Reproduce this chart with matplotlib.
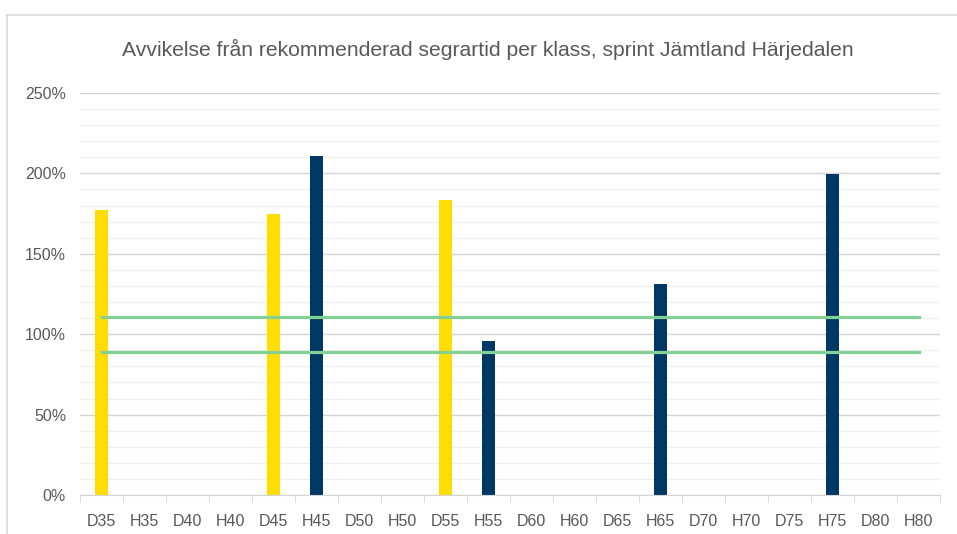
import matplotlib.pyplot as plt
import numpy as np
from matplotlib.lines import Line2D

plt.rcParams['font.family'] = ['Liberation Sans', 'DejaVu Sans']

# data
classes = ['D35', 'H35', 'D40', 'H40', 'D45', 'H45', 'D50', 'H50', 'D55', 'H55',
           'D60', 'H60', 'D65', 'H65', 'D70', 'H70', 'D75', 'H75', 'D80', 'H80']
deviation = [177, 0, 0, 0, 175, 211, 0, 0, 183.5, 96,
             0, 0, 0, 131, 0, 0, 0, 199.5, 0, 0]
upper_limit = 111
lower_limit = 89

colors = ['#FFDD00' if c.startswith('D') else '#003865' for c in classes]

fig = plt.figure(figsize=(9.57, 5.34), dpi=100)
ax = fig.add_axes([80 / 957, 39 / 534, 860 / 957, 402 / 534])

x = np.arange(len(classes))
ax.bar(x, deviation, width=0.29, color=colors, zorder=3)
ax.plot(x, [upper_limit] * len(x), color='#82D095', lw=2.3, zorder=4)
ax.plot(x, [lower_limit] * len(x), color='#82D095', lw=2.3, zorder=4)

ax.set_xlim(-0.5, len(classes) - 0.5)
ax.set_ylim(0, 250)
ax.set_yticks(np.arange(0, 251, 50))
ax.set_yticklabels([f'{v}%' for v in range(0, 251, 50)])
ax.set_yticks(np.arange(0, 251, 10), minor=True)
ax.grid(axis='y', which='major', color='#D4D4D4', lw=1, zorder=0)
ax.grid(axis='y', which='minor', color='#F0F0F0', lw=1, zorder=0)

ax.set_xticks(x)
ax.set_xticklabels(classes)
ax.set_xticks(np.arange(-0.5, len(classes)), minor=True)
ax.tick_params(axis='x', which='major', length=0, pad=14, labelsize=11.5, colors='#595959')
ax.tick_params(axis='x', which='minor', length=5, color='#D4D4D4')
ax.tick_params(axis='y', which='both', length=0, pad=10, labelsize=11.5, colors='#595959')

for s in ['top', 'right', 'left']:
    ax.spines[s].set_visible(False)
ax.spines['bottom'].set_color('#D4D4D4')
ax.spines['bottom'].set_zorder(5)

fig.text(488 / 957, 1 - 49 / 534,
         'Avvikelse från rekommenderad segrartid per klass, sprint Jämtland Härjedalen',
         ha='center', va='center', fontsize=15.2, color='#595959')

# chart border (cropped at right and bottom)
fig.add_artist(Line2D([7 / 957, 1], [1 - 15 / 534, 1 - 15 / 534], color='#D9D9D9', lw=1.2))
fig.add_artist(Line2D([7 / 957, 7 / 957], [0, 1 - 15 / 534], color='#D9D9D9', lw=1.2))

fig.savefig('out.png', dpi=100)
